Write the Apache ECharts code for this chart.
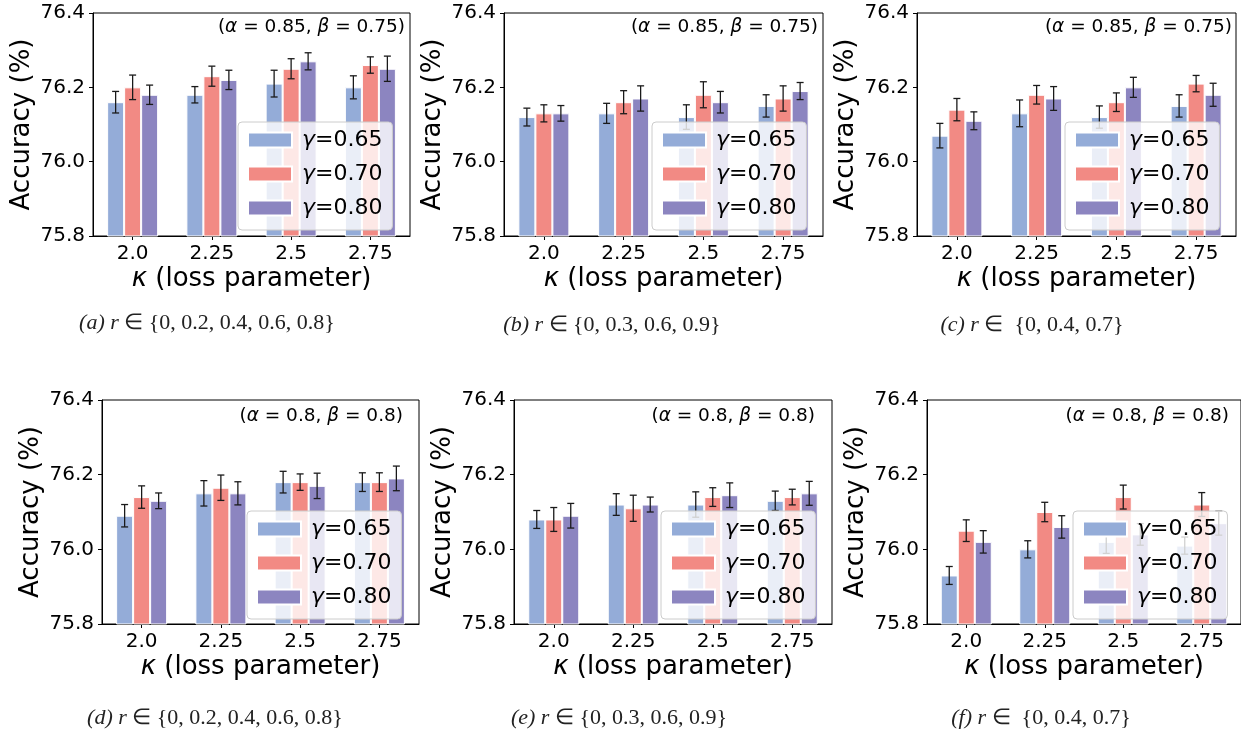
<!DOCTYPE html>
<html>
<head>
<meta charset="utf-8">
<script src="https://cdn.jsdelivr.net/npm/echarts@6/dist/echarts.min.js"></script>
<style>html,body{margin:0;padding:0;background:#fff;}#c{width:1241px;height:734px;}</style>
</head>
<body>
<div id="c"></div>
<script>
// ---------- data ----------
const categories = ['2.0', '2.25', '2.5', '2.75'];
const seriesNames = ['γ=0.65', 'γ=0.70', 'γ=0.80'];
const yTicks = [75.8, 76.0, 76.2, 76.4];

// mean accuracy per panel: rows = γ 0.65, 0.70, 0.80
const meansA = [[76.16, 76.18, 76.21, 76.20], [76.20, 76.23, 76.25, 76.26], [76.18, 76.22, 76.27, 76.25]];
const errsA  = [[0.029, 0.022, 0.036, 0.031], [0.033, 0.027, 0.027, 0.022], [0.026, 0.026, 0.023, 0.034]];
const meansB = [[76.12, 76.13, 76.12, 76.15], [76.13, 76.16, 76.18, 76.17], [76.13, 76.17, 76.16, 76.19]];
const errsB  = [[0.024, 0.027, 0.033, 0.030], [0.023, 0.031, 0.035, 0.034], [0.021, 0.034, 0.029, 0.023]];
const meansC = [[76.07, 76.13, 76.12, 76.15], [76.14, 76.18, 76.16, 76.21], [76.11, 76.17, 76.20, 76.18]];
const errsC  = [[0.033, 0.036, 0.030, 0.030], [0.030, 0.025, 0.025, 0.022], [0.024, 0.032, 0.027, 0.031]];
const meansD = [[76.09, 76.15, 76.18, 76.18], [76.14, 76.165, 76.18, 76.18], [76.13, 76.15, 76.17, 76.19]];
const errsD  = [[0.030, 0.034, 0.029, 0.025], [0.030, 0.034, 0.022, 0.025], [0.021, 0.031, 0.034, 0.033]];
const meansE = [[76.08, 76.12, 76.12, 76.13], [76.08, 76.11, 76.14, 76.14], [76.09, 76.12, 76.145, 76.15]];
const errsE  = [[0.024, 0.029, 0.034, 0.026], [0.032, 0.035, 0.025, 0.021], [0.033, 0.020, 0.033, 0.032]];
const meansF = [[75.93, 76.00, 76.02, 76.01], [76.05, 76.10, 76.14, 76.12], [76.02, 76.06, 76.04, 76.07]];
const errsF  = [[0.024, 0.023, 0.031, 0.023], [0.029, 0.026, 0.032, 0.032], [0.030, 0.030, 0.029, 0.032]];

const annotations = ['(α = 0.85, β = 0.75)', '(α = 0.85, β = 0.75)', '(α = 0.85, β = 0.75)',
                     '(α = 0.8, β = 0.8)', '(α = 0.8, β = 0.8)', '(α = 0.8, β = 0.8)'];
const captionTags = ['(a)', '(b)', '(c)', '(d)', '(e)', '(f)'];
const captionSets = ['∈ {0, 0.2, 0.4, 0.6, 0.8}', '∈ {0, 0.3, 0.6, 0.9}', '∈  {0, 0.4, 0.7}',
                     '∈ {0, 0.2, 0.4, 0.6, 0.8}', '∈ {0, 0.3, 0.6, 0.9}', '∈  {0, 0.4, 0.7}'];

// ---------- layout / style ----------
const colors = ['#94ACD8', '#F28A84', '#8C85C0'];
const FONT = 'DejaVu Sans';
const grids = [
  {left: 93, top: 13, width: 317, height: 223},
  {left: 504, top: 13, width: 319, height: 223},
  {left: 917, top: 13, width: 319, height: 223},
  {left: 102, top: 400, width: 317, height: 224},
  {left: 514, top: 400, width: 318, height: 224},
  {left: 927, top: 400, width: 318, height: 224}
];
const legendPos = [[238, 122], [652, 122], [1065, 122], [247, 511], [661, 511], [1073, 511]];
const annotPos = [[405, 27], [818, 27], [1232, 27], [403, 416], [815, 416], [1229, 416]];
const captionPos = [[207, 323], [612, 325], [1032, 325], [215, 718], [619, 718], [1041, 718]];
const BAR_W = 17;

const allMeans = [meansA, meansB, meansC, meansD, meansE, meansF];
const allErrs = [errsA, errsB, errsC, errsD, errsE, errsF];

const option = {
  animation: false,
  backgroundColor: '#fff',
  grid: [], xAxis: [], yAxis: [], series: [], legend: [], graphic: []
};

grids.forEach((g, p) => {
  option.grid.push(Object.assign({show: true, borderColor: '#000', borderWidth: 1, backgroundColor: 'transparent'}, g));
  option.xAxis.push({
    type: 'category', gridIndex: p, data: categories,
    axisLine: {show: true, lineStyle: {color: '#000', width: 1}},
    axisTick: {show: true, alignWithLabel: true, length: 4, lineStyle: {color: '#000'}},
    axisLabel: {color: '#000', fontSize: 20, fontFamily: FONT, margin: 8},
    name: '{k|κ} (loss parameter)', nameLocation: 'middle', nameGap: 30,
    nameTextStyle: {color: '#000', fontSize: 26, fontFamily: FONT,
      rich: {k: {fontStyle: 'italic', fontSize: 26, fontFamily: FONT, color: '#000'}}}
  });
  option.yAxis.push({
    type: 'value', gridIndex: p, min: yTicks[0], max: yTicks[yTicks.length - 1], interval: 0.2,
    axisLine: {show: true, lineStyle: {color: '#000', width: 1}},
    axisTick: {show: true, length: 4, lineStyle: {color: '#000'}},
    splitLine: {show: false},
    axisLabel: {color: '#000', fontSize: 20, fontFamily: FONT, margin: 8, formatter: v => v.toFixed(1)},
    name: 'Accuracy (%)', nameLocation: 'middle', nameGap: 58,
    nameTextStyle: {color: '#000', fontSize: 26, fontFamily: FONT}
  });
  const means = allMeans[p], errs = allErrs[p];
  seriesNames.forEach((nm, s) => {
    option.series.push({
      type: 'bar', name: nm, xAxisIndex: p, yAxisIndex: p,
      data: means[s], barWidth: BAR_W, barGap: '0%',
      itemStyle: {color: colors[s], borderColor: '#fff', borderWidth: 1},
      z: 2
    });
  });
  seriesNames.forEach((nm, s) => {
    option.series.push({
      type: 'custom', name: nm + ' err', xAxisIndex: p, yAxisIndex: p, z: 3,
      data: means[s].map((m, i) => [i, m, errs[s][i]]),
      encode: {x: 0, y: 1},
      renderItem: (params, api) => {
        const ci = api.value(0), m = api.value(1), e = api.value(2);
        const off = (s - 1) * BAR_W;
        const hi = api.coord([ci, m + e]);
        const lo = api.coord([ci, m - e]);
        const x = hi[0] + off;
        const st = {stroke: '#1a1a1a', lineWidth: 1.3};
        return {type: 'group', children: [
          {type: 'line', shape: {x1: x, y1: hi[1], x2: x, y2: lo[1]}, style: st},
          {type: 'line', shape: {x1: x - 3.5, y1: hi[1], x2: x + 3.5, y2: hi[1]}, style: st},
          {type: 'line', shape: {x1: x - 3.5, y1: lo[1], x2: x + 3.5, y2: lo[1]}, style: st}
        ]};
      }
    });
  });
  option.legend.push({
    data: seriesNames, orient: 'vertical',
    left: legendPos[p][0], top: legendPos[p][1],
    itemWidth: 44, itemHeight: 15, itemGap: 12,
    padding: [7, 10, 11, 9],
    backgroundColor: 'rgba(255,255,255,0.8)', borderColor: '#cccccc', borderWidth: 1, borderRadius: 4,
    icon: 'rect', selectedMode: false,
    formatter: n => '{g|γ}' + n.slice(1),
    textStyle: {color: '#000', fontSize: 22, fontFamily: FONT, lineHeight: 22, padding: [0, 0, 0, 5],
      rich: {g: {fontStyle: 'italic', fontSize: 22, fontFamily: FONT, color: '#000'}}},
    z: 10
  });
  const parts = annotations[p].match(/^\((α) = ([\d.]+), (β) = ([\d.]+)\)$/);
  option.graphic.push({
    type: 'text', x: annotPos[p][0], y: annotPos[p][1], z: 20,
    style: {
      text: '({i|' + parts[1] + '} = ' + parts[2] + ', {i|' + parts[3] + '} = ' + parts[4] + ')',
      align: 'right', verticalAlign: 'middle', fill: '#000', fontSize: 18.5, fontFamily: FONT,
      rich: {i: {fontStyle: 'italic', fontSize: 18.5, fontFamily: FONT, fill: '#000'}}
    }
  });
  option.graphic.push({
    type: 'text', x: captionPos[p][0], y: captionPos[p][1], z: 20,
    style: {
      text: '{t|' + captionTags[p] + '} {t|r} ' + captionSets[p],
      align: 'center', verticalAlign: 'middle', fill: '#222', fontSize: 22, fontFamily: 'Liberation Serif',
      rich: {t: {fontStyle: 'italic', fontSize: 22, fontFamily: 'Liberation Serif', fill: '#222'}}
    }
  });
});

const chart = echarts.init(document.getElementById('c'), null, {renderer: 'canvas'});
chart.setOption(option);
</script>
</body>
</html>
